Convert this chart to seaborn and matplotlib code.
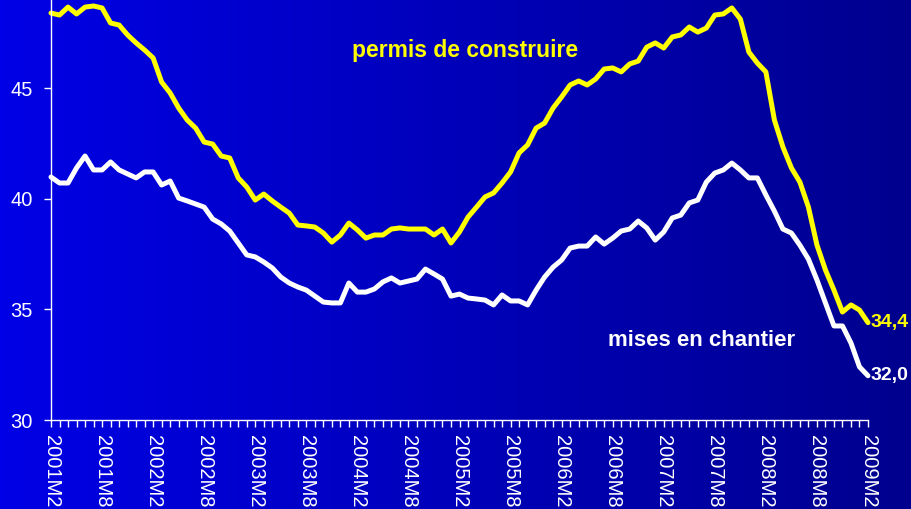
# Permis de construire / mises en chantier, 2001M2 - 2009M2
import numpy as np
import pandas as pd
import matplotlib
matplotlib.use("Agg")
import matplotlib.pyplot as plt
import seaborn as sns

# monthly series, 2001M2 .. 2009M2 (97 points)
permis = [48.39, 48.30, 48.66, 48.35, 48.66, 48.71, 48.62, 47.94, 47.85, 47.40,
          47.04, 46.72, 46.36, 45.27, 44.78, 44.10, 43.56, 43.19, 42.56, 42.47,
          41.93, 41.84, 40.94, 40.53, 39.94, 40.21, 39.90, 39.62, 39.35, 38.81,
          38.77, 38.72, 38.45, 38.04, 38.36, 38.90, 38.59, 38.22, 38.36, 38.36,
          38.63, 38.68, 38.63, 38.63, 38.63, 38.36, 38.63, 38.00, 38.50, 39.17,
          39.62, 40.08, 40.26, 40.71, 41.21, 42.07, 42.43, 43.19, 43.42, 44.10,
          44.60, 45.14, 45.32, 45.14, 45.41, 45.86, 45.91, 45.73, 46.09, 46.22,
          46.85, 47.04, 46.81, 47.31, 47.40, 47.76, 47.53, 47.71, 48.30, 48.35,
          48.62, 48.12, 46.63, 46.13, 45.73, 43.56, 42.34, 41.39, 40.75, 39.62,
          37.91, 36.78, 35.87, 34.88, 35.20, 34.97, 34.40]

mises = [40.98, 40.71, 40.71, 41.39, 41.93, 41.30, 41.30, 41.66, 41.30, 41.12,
         40.94, 41.21, 41.21, 40.62, 40.80, 40.03, 39.90, 39.76, 39.62, 39.08,
         38.86, 38.54, 38.00, 37.46, 37.37, 37.14, 36.87, 36.46, 36.19, 36.01,
         35.87, 35.60, 35.33, 35.29, 35.29, 36.19, 35.78, 35.78, 35.92, 36.24,
         36.42, 36.19, 36.28, 36.37, 36.82, 36.60, 36.37, 35.60, 35.69, 35.51,
         35.47, 35.42, 35.20, 35.65, 35.38, 35.38, 35.20, 35.87, 36.46, 36.91,
         37.23, 37.77, 37.86, 37.86, 38.27, 37.95, 38.22, 38.54, 38.63, 38.99,
         38.68, 38.13, 38.50, 39.13, 39.26, 39.81, 39.94, 40.75, 41.16, 41.30,
         41.61, 41.30, 40.94, 40.94, 40.17, 39.44, 38.63, 38.45, 37.90, 37.27,
         36.33, 35.29, 34.25, 34.25, 33.48, 32.40, 32.00]

months = [f"{y}M{m}" for y in range(2001, 2010) for m in range(1, 13)][1:98]
yticks = [30, 35, 40, 45]

df = pd.DataFrame({"mois": np.arange(len(months)), "permis": permis, "mises": mises})

sns.set_style("ticks")
plt.rcParams["font.family"] = ["Liberation Sans", "DejaVu Sans"]

fig = plt.figure(figsize=(9.11, 5.09), dpi=100)

# blue gradient background
bg = fig.add_axes([0, 0, 1, 1])
grad = np.linspace(0, 1, 256).reshape(1, -1)
cmap = matplotlib.colors.LinearSegmentedColormap.from_list("bleu", ["#0000E6", "#00008E"])
bg.imshow(grad, aspect="auto", cmap=cmap, extent=[0, 1, 0, 1])
bg.axis("off")

ax = fig.add_axes([51 / 911, 1 - 420 / 509, (868 - 51) / 911, 420 / 509])
ax.patch.set_alpha(0)

sns.lineplot(data=df, x="mois", y="permis", color="#FFFF00", linewidth=3.6, ax=ax)
sns.lineplot(data=df, x="mois", y="mises", color="white", linewidth=3.6, ax=ax)
for l in ax.lines:
    l.set_clip_on(False)

ax.set_xlim(0, len(months) - 1)
ax.set_ylim(30, 48.98)
ax.set_xlabel("")
ax.set_ylabel("")

ax.set_yticks(yticks)
ax.set_yticklabels([str(v) for v in yticks], color="white", fontsize=14.5)
ax.set_xticks(range(len(months)))
ax.set_xticklabels([m if i % 6 == 0 else "" for i, m in enumerate(months)],
                   rotation=270, color="white", fontsize=14.5)
ax.tick_params(axis="both", colors="white", length=5, width=1, direction="out")
ax.tick_params(axis="x", pad=6)
ax.tick_params(axis="y", pad=8)

for s in ["top", "right"]:
    ax.spines[s].set_visible(False)
for s in ["left", "bottom"]:
    ax.spines[s].set_color("white")
    ax.spines[s].set_linewidth(1)

ax.text(48.7, 46.7, "permis de construire", color="#FFFF00", fontsize=16.5,
        fontweight="bold", ha="center", va="center")
ax.text(76.4, 33.6, "mises en chantier", color="white", fontsize=16,
        fontweight="bold", ha="center", va="center")
ax.text(96.3, permis[-1], "34,4", color="#FFFF00", fontsize=14,
        fontweight="bold", ha="left", va="center")
ax.text(96.3, mises[-1], "32,0", color="white", fontsize=14,
        fontweight="bold", ha="left", va="center")

fig.savefig("out.png", dpi=100)
